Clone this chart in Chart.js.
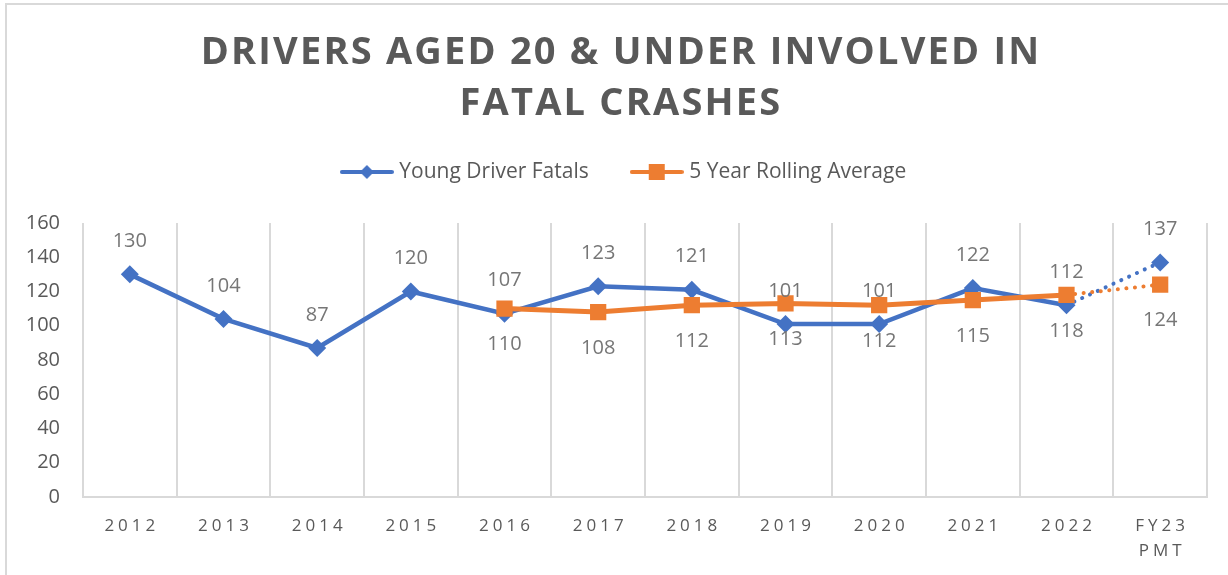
<!DOCTYPE html>
<html>
<head>
<meta charset="utf-8">
<script src="https://cdn.jsdelivr.net/npm/chart.js@4.4.1/dist/chart.umd.min.js"></script>
<style>
  html, body { margin: 0; padding: 0; background: #ffffff; overflow: hidden; }
  #wrap { position: relative; width: 1228px; height: 575px; }
  #frame { position: absolute; left: 5px; top: 3px; width: 1260px; height: 620px; border: 2px solid #d9d9d9; box-sizing: border-box; pointer-events: none; }
  canvas { position: absolute; left: 0; top: 0; }
</style>
</head>
<body>
<div id="wrap">
  <div id="frame"></div>
  <canvas id="c" width="1228" height="575"></canvas>
</div>
<script>
const categories = ['2012','2013','2014','2015','2016','2017','2018','2019','2020','2021','2022',['FY23','PMT']];
const youngDriverFatals = [130,104,87,120,107,123,121,101,101,122,112,137];
const rollingAverage = [null,null,null,null,110,108,112,113,112,115,118,124];
const seriesNames = ['Young Driver Fatals','5 Year Rolling Average'];
const titleLines = ['DRIVERS AGED 20 & UNDER INVOLVED IN','FATAL CRASHES'];
const yMin = 0, yMax = 160, yStep = 20;

const BLUE = '#4472c4';
const ORANGE = '#ed7d31';
const FONT = '"Open Sans", Lato, sans-serif';

function legendIcon(color, style) {
  const c = document.createElement('canvas');
  c.width = 54; c.height = 18;
  const x = c.getContext('2d');
  x.strokeStyle = color; x.lineWidth = 4; x.lineCap = 'round';
  x.beginPath(); x.moveTo(2, 9); x.lineTo(52, 9); x.stroke();
  x.fillStyle = color;
  if (style === 'diamond') {
    x.beginPath(); x.moveTo(27, 2); x.lineTo(34, 9); x.lineTo(27, 16); x.lineTo(20, 9); x.closePath(); x.fill();
  } else {
    x.fillRect(19, 1, 16, 16);
  }
  return c;
}
const icons = [legendIcon(BLUE, 'diamond'), legendIcon(ORANGE, 'square')];

const lastIdx = categories.length - 1;
const dotted = (w) => ({
  borderDash: ctx => ctx.p1DataIndex === lastIdx ? [0.1, 8.5] : undefined,
  borderWidth: ctx => ctx.p1DataIndex === lastIdx ? 4 : w
});

// Styling hooks: letter spacing for title / x labels, horizontal centring offset,
// and extra room below the legend.
const stylePlugin = {
  id: 'styleHooks',
  beforeLayout(chart) {
    const lg = chart.legend;
    if (lg && !lg.$fitWrapped) {
      lg.$fitWrapped = true;
      const origFit = lg.fit.bind(lg);
      lg.fit = function() { origFit(); this.height += 30.5; };
    }
  },
  beforeDraw(chart) {
    if (chart.$wrapped) return;
    chart.$wrapped = true;
    const ctx = chart.ctx;
    const xs = chart.scales.x;
    const origLabels = xs.drawLabels.bind(xs);
    xs.drawLabels = function(area) {
      ctx.save(); ctx.letterSpacing = '4px'; ctx.translate(2, 0); origLabels(area); ctx.restore();
    };
    const tb = chart.titleBlock;
    if (tb) {
      const origDraw = tb.draw.bind(tb);
      tb.draw = function() {
        ctx.save(); ctx.letterSpacing = '2.2px'; ctx.translate(17.5, 0); origDraw(); ctx.restore();
      };
    }
    const lg = chart.legend;
    if (lg) {
      const origDraw = lg.draw.bind(lg);
      lg.draw = function() {
        ctx.save(); ctx.translate(22, 0); origDraw(); ctx.restore();
      };
    }
  }
};

const labelPlugin = {
  id: 'valueLabels',
  afterDatasetsDraw(chart) {
    const ctx = chart.ctx;
    ctx.save();
    ctx.font = '20px ' + FONT;
    ctx.fillStyle = '#767676';
    ctx.textAlign = 'center';
    ctx.textBaseline = 'middle';
    chart.data.datasets.forEach((ds, di) => {
      const meta = chart.getDatasetMeta(di);
      meta.data.forEach((pt, i) => {
        const v = ds.data[i];
        if (v === null || v === undefined) return;
        const dy = di === 0 ? -33 : 36;
        ctx.fillText(String(v), pt.x, pt.y + dy);
      });
    });
    ctx.restore();
  }
};

new Chart(document.getElementById('c'), {
  type: 'line',
  data: {
    labels: categories,
    datasets: [
      {
        label: seriesNames[0],
        data: youngDriverFatals,
        borderColor: BLUE,
        backgroundColor: BLUE,
        borderWidth: 4.5,
        pointStyle: 'rectRot',
        pointRadius: 9,
        pointHoverRadius: 9,
        pointBorderWidth: 0,
        borderCapStyle: 'round',
        tension: 0,
        order: 1,
        segment: dotted(4.5)
      },
      {
        label: seriesNames[1],
        data: rollingAverage,
        borderColor: ORANGE,
        backgroundColor: ORANGE,
        borderWidth: 5,
        pointStyle: 'rect',
        pointRadius: 11.5,
        pointHoverRadius: 11.5,
        pointBorderWidth: 0,
        borderCapStyle: 'round',
        tension: 0,
        order: 0,
        spanGaps: false,
        segment: dotted(5)
      }
    ]
  },
  options: {
    responsive: false,
    animation: false,
    devicePixelRatio: 1,
    layout: { padding: { left: 0, right: 21, top: 0, bottom: 0 } },
    plugins: {
      tooltip: { enabled: false },
      title: {
        display: true,
        text: titleLines,
        color: '#595959',
        font: { family: FONT, size: 38, weight: 'bold', lineHeight: 1.342 },
        padding: { top: 27.5, bottom: -14 }
      },
      legend: {
        display: true,
        position: 'top',
        labels: {
          color: '#595959',
          font: { family: FONT, size: 21 },
          usePointStyle: true,
          pointStyleWidth: 44,
          padding: 46,
          sort: (a, b) => a.datasetIndex - b.datasetIndex,
          generateLabels(chart) {
            const items = Chart.defaults.plugins.legend.labels.generateLabels(chart);
            items.forEach(it => { it.pointStyle = icons[it.datasetIndex]; });
            return items;
          }
        }
      }
    },
    scales: {
      x: {
        offset: true,
        afterFit: s => { s.height = 78; },
        grid: { display: true, offset: true, color: '#d9d9d9', lineWidth: 2, drawTicks: false },
        border: { display: true, color: '#d9d9d9', width: 2 },
        ticks: { color: '#595959', font: { family: FONT, size: 17, lineHeight: 1.5 }, padding: 16, maxRotation: 0, autoSkip: false }
      },
      y: {
        min: yMin, max: yMax,
        afterFit: s => { s.width = 83; },
        grid: { display: false, drawTicks: false },
        border: { display: false },
        ticks: { stepSize: yStep, color: '#595959', font: { family: FONT, size: 20 }, padding: 23 }
      }
    }
  },
  plugins: [stylePlugin, labelPlugin]
});
</script>
</body>
</html>
